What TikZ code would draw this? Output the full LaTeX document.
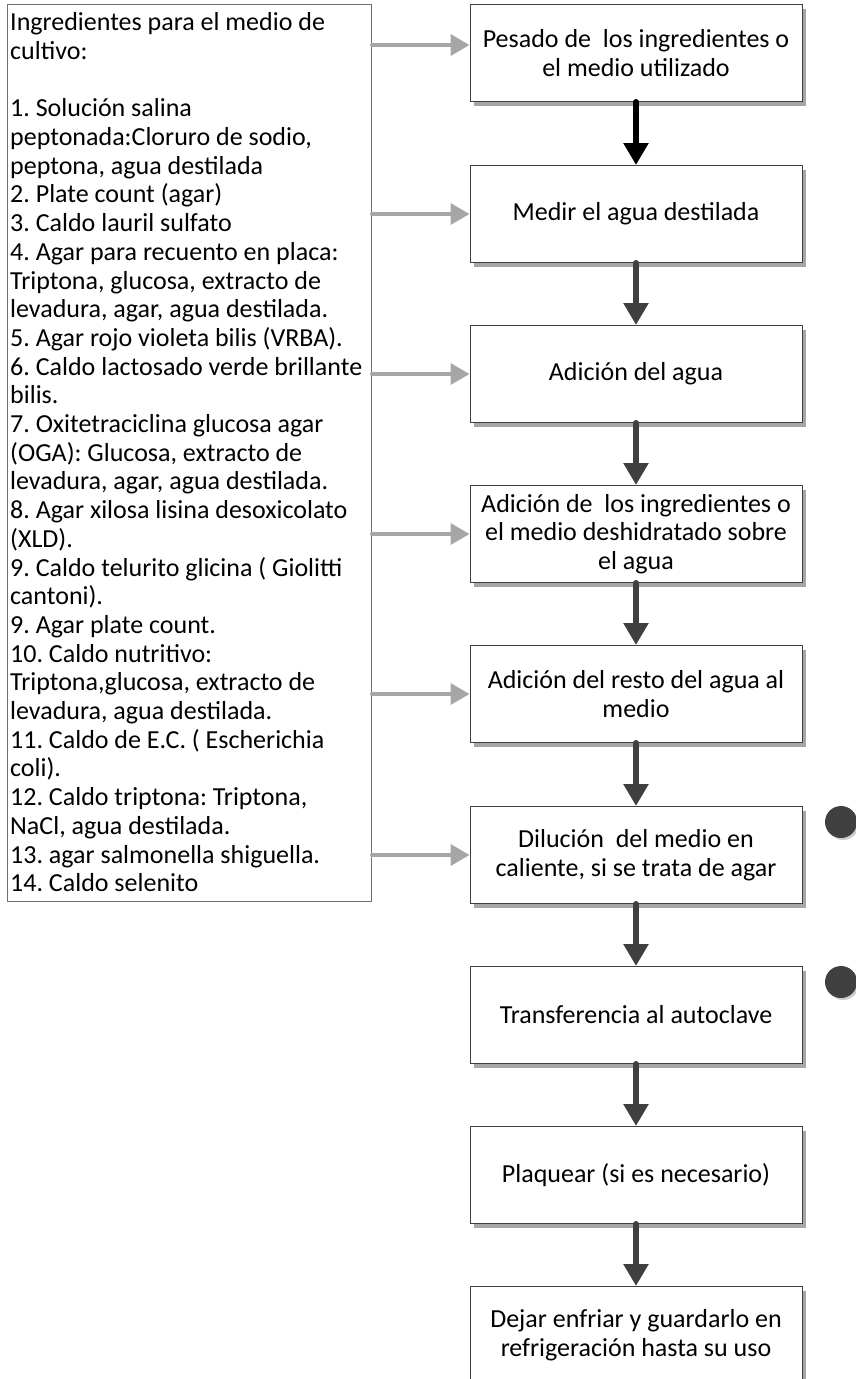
\documentclass[tikz,border=0pt]{standalone}
\usepackage{fontspec}
\setmainfont{Carlito}
\frenchspacing
\usetikzlibrary{arrows.meta,shadows}
\definecolor{boxline}{HTML}{404040}
\definecolor{feedgray}{HTML}{A6A6A6}
\definecolor{flowdark}{HTML}{404040}
\definecolor{listline}{HTML}{707070}

\begin{document}
\begin{tikzpicture}[x=1pt,y=-1pt,
  txt/.style={font={\fontsize{26pt}{28.7pt}\selectfont}},
  stepbox/.style={txt, draw=boxline, line width=1pt, fill=white, align=center,
    minimum width=332pt, minimum height=97pt, inner sep=2pt,
    drop shadow={shadow xshift=4pt, shadow yshift=-4pt, fill=black!35, opacity=1}},
  flow/.style={line width=6pt, draw=flowdark, line cap=round,
    -{Triangle[length=22pt,width=24pt]}},
  feed/.style={line width=4pt, draw=feedgray, line cap=round,
    -{Triangle[length=19pt,width=21pt]}},
  dot/.style={circle, fill=flowdark, minimum size=32pt, inner sep=0pt,
    drop shadow={shadow xshift=2pt, shadow yshift=-2pt, fill=black!20, opacity=1}}
]
\useasboundingbox (0,0) rectangle (856,1379);

% ingredient list
\node[draw=listline, line width=1pt, anchor=north west, minimum width=364pt,
      minimum height=897pt, inner sep=0pt] (ingbox) at (7,4) {};
\node[txt, align=left, anchor=north west, inner sep=0pt] (ingtext)
  at ([xshift=3pt,yshift=-6.5pt]ingbox.north west)
  {\rule{0pt}{20pt}Ingredientes para el medio de\\
   cultivo:\\[28.7pt]
   1. Solución salina\\
   peptonada:Cloruro de sodio,\\
   peptona, agua destilada\\
   2. Plate count (agar)\\
   3. Caldo lauril sulfato\\
   4. Agar para recuento en placa:\\
   Triptona, glucosa, extracto de\\
   levadura, agar, agua destilada.\\
   5. Agar rojo violeta bilis (VRBA).\\
   6. Caldo lactosado verde brillante\\
   bilis.\\
   7. Oxitetraciclina glucosa agar\\
   (OGA): Glucosa, extracto de\\
   levadura, agar, agua destilada.\\
   8. Agar xilosa lisina desoxicolato\\
   (XLD).\\
   9. Caldo telurito glicina ( Giolitti\\
   cantoni).\\
   9. Agar plate count.\\
   10. Caldo nutritivo:\\
   Triptona,glucosa, extracto de\\
   levadura, agua destilada.\\
   11. Caldo de E.C. ( Escherichia\\
   coli).\\
   12. Caldo triptona: Triptona,\\
   NaCl, agua destilada.\\
   13. agar salmonella shiguella.\\
   14. Caldo selenito};

% process steps
\node[stepbox, anchor=north] (b1) at (636,4)    {Pesado de\ \ los ingredientes o\\el medio utilizado};
\node[stepbox, anchor=north] (b2) at (636,165)  {Medir el agua destilada};
\node[stepbox, anchor=north] (b3) at (636,325)  {Adición del agua};
\node[stepbox, anchor=north] (b4) at (636,485)  {Adición de\ \ los ingredientes o\\el medio deshidratado sobre\\el agua};
\node[stepbox, anchor=north] (b5) at (636,645)  {Adición del resto del agua al\\medio};
\node[stepbox, anchor=north] (b6) at (636,806)  {Dilución\ \ del medio en\\caliente, si se trata de agar};
\node[stepbox, anchor=north] (b7) at (636,966)  {Transferencia al autoclave};
\node[stepbox, anchor=north] (b8) at (636,1126) {Plaquear (si es necesario)};
\node[stepbox, anchor=north] (b9) at (636,1286) {Dejar enfriar y guardarlo en\\refrigeración hasta su uso};

% side markers
\node[dot] (d1) at (841,822) {};
\node[dot] (d2) at (841,982) {};

% main flow
\draw[flow, draw=black] (b1.south) -- (b2.north);
\draw[flow] (b2.south) -- (b3.north);
\draw[flow] (b3.south) -- (b4.north);
\draw[flow] (b4.south) -- (b5.north);
\draw[flow] (b5.south) -- (b6.north);
\draw[flow] (b6.south) -- (b7.north);
\draw[flow] (b7.south) -- (b8.north);
\draw[flow] (b8.south) -- (b9.north);

% ingredient feeds
\path (b1.west) ++(0,-8) coordinate (f1);
\draw[feed] (ingbox.east |- f1) -- (f1);
\draw[feed] (ingbox.east |- b2.west) -- (b2.west);
\draw[feed] (ingbox.east |- b3.west) -- (b3.west);
\draw[feed] (ingbox.east |- b4.west) -- (b4.west);
\draw[feed] (ingbox.east |- b5.west) -- (b5.west);
\draw[feed] (ingbox.east |- b6.west) -- (b6.west);
\end{tikzpicture}
\end{document}
